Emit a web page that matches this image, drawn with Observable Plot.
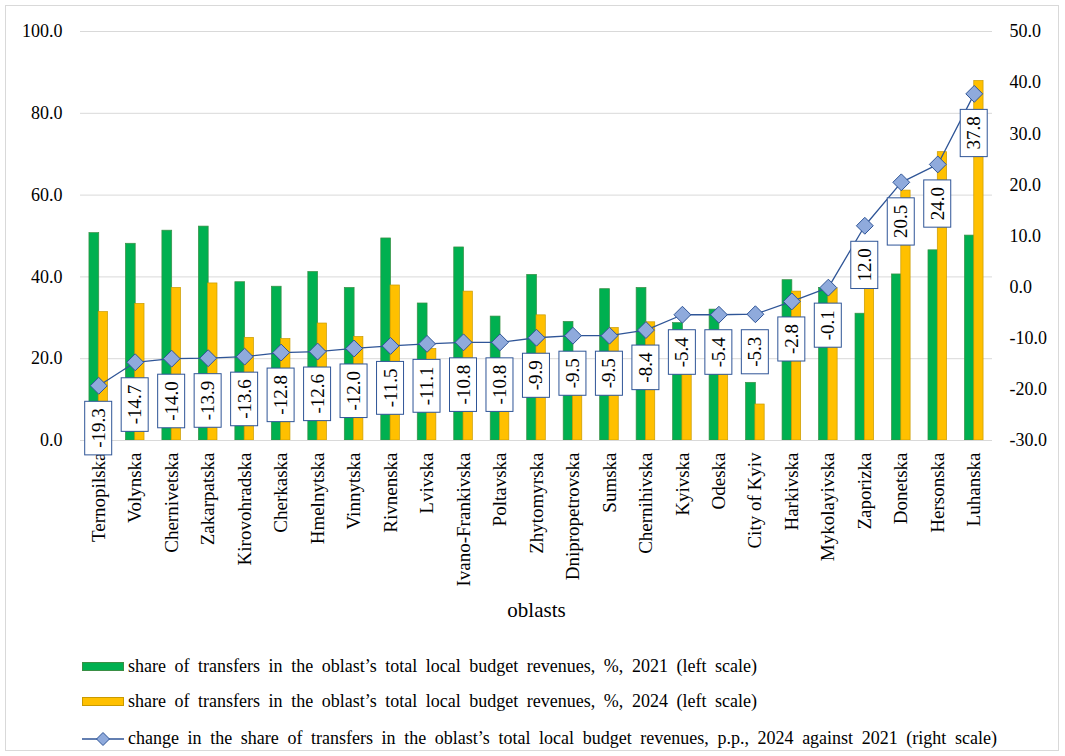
<!DOCTYPE html>
<html>
<head>
<meta charset="utf-8">
<script src="https://cdn.jsdelivr.net/npm/d3@7"></script>
<script src="https://cdn.jsdelivr.net/npm/@observablehq/plot@0.6"></script>
<style>
  html, body { margin: 0; padding: 0; background: #fff; }
  #wrap { position: relative; width: 1065px; height: 756px; overflow: hidden; font-family: "Liberation Serif", "Times New Roman", serif; }
  #frame { position: absolute; left: 5px; top: 5px; width: 1054px; height: 746px; border: 1px solid #d9d9d9; box-sizing: border-box; }
  #chart { position: absolute; left: 0; top: 0; }
  .leg { position: absolute; left: 82px; display: flex; align-items: center; font-size: 18px; color: #000; white-space: nowrap; }
  .sw { width: 40px; height: 7px; margin-right: 4px; }
</style>
</head>
<body>
<div id="wrap">
  <div id="frame"></div>
  <div id="chart"></div>
  <div class="leg" style="top:656px"><div class="sw" style="background:#00b050;border:1px solid #3a8f45"></div><span data-end="757">share of transfers in the oblast’s total local budget revenues, %, 2021 (left scale)</span></div>
  <div class="leg" style="top:691px"><div class="sw" style="background:#ffc000;border:1px solid #c99a00"></div><span data-end="757">share of transfers in the oblast’s total local budget revenues, %, 2024 (left scale)</span></div>
  <div class="leg" style="top:728px"><svg width="42" height="20" style="margin-right:4px"><line x1="0" y1="10" x2="42" y2="10" stroke="#2f5597" stroke-width="1.3"/><path d="M21,3.5 L27.5,10 L21,16.5 L14.5,10 Z" fill="#8faadc" stroke="#2f5597" stroke-width="1"/></svg><span data-end="997">change in the share of transfers in the oblast’s total local budget revenues, p.p., 2024 against 2021 (right scale)</span></div>
</div>
<script>
const oblasts = ["Ternopilska","Volynska","Chernivetska","Zakarpatska","Kirovohradska","Cherkaska","Hmelnytska","Vinnytska","Rivnenska","Lvivska","Ivano-Frankivska","Poltavska","Zhytomyrska","Dnipropetrovska","Sumska","Chernihivska","Kyivska","Odeska","City of Kyiv","Harkivska","Mykolayivska","Zaporizka","Donetska","Hersonska","Luhanska"];
const share2021 = [50.7,48.1,51.3,52.3,38.7,37.6,41.2,37.3,49.4,33.5,47.2,30.3,40.5,29.0,37.0,37.3,28.7,32.0,14.1,39.2,37.3,31.0,40.6,46.5,50.1];
const share2024 = [31.4,33.4,37.3,38.4,25.1,24.8,28.6,25.3,37.9,22.4,36.4,19.5,30.6,19.5,27.5,28.9,23.3,26.6,8.8,36.4,37.2,43.0,61.1,70.5,87.9];
const change = [-19.3,-14.7,-14.0,-13.9,-13.6,-12.8,-12.6,-12.0,-11.5,-11.1,-10.8,-10.8,-9.9,-9.5,-9.5,-8.4,-5.4,-5.4,-5.3,-2.8,-0.1,12.0,20.5,24.0,37.8];
const leftTicks = [0,20,40,60,80,100];
const rightTicks = [-30,-20,-10,0,10,20,30,40,50];

const rows = oblasts.map((o,i)=>({oblast:o, v21:share2021[i], v24:share2024[i], ch:change[i]}));
// secondary (right) axis mapped onto the left scale's domain
const toLeft = d3.scaleLinear().domain([-30,50]).range([0,100]);
const f1 = d3.format(".1f");
const fmt = v => f1(v).replace("\u2212", "-");
const FONT = "'Liberation Serif','Times New Roman',serif";

const W = 1065, H = 630, ML = 80, MR = 73, MT = 31, MB = 190;
const bw = (W - ML - MR) / oblasts.length;
const half = bw / 2;

const plot = Plot.plot({
  width: W, height: H,
  marginLeft: ML, marginRight: MR, marginTop: MT, marginBottom: MB,
  style: {fontFamily: FONT, fontSize: "18px", color: "#000", background: "transparent", overflow: "visible"},
  x: {type: "band", domain: oblasts, padding: 0, round: false, label: null},
  y: {domain: [0,100], label: null},
  marks: [
    Plot.gridY(leftTicks, {stroke: "#d9d9d9", strokeOpacity: 1, strokeWidth: 1}),
    Plot.barY(rows, {x: "oblast", y: "v21", fill: "#00b050", stroke: "#3a8f45", strokeWidth: 0.7, insetLeft: half - 9.3, insetRight: half - 0.5}),
    Plot.barY(rows, {x: "oblast", y: "v24", fill: "#ffc000", stroke: "#c99a00", strokeWidth: 0.7, insetLeft: half, insetRight: half - 9.3}),
    Plot.ruleY([0], {stroke: "#d9d9d9", strokeWidth: 1}),
    Plot.axisY(leftTicks, {anchor: "left", tickSize: 0, tickPadding: 18, tickFormat: fmt, label: null, fontSize: 18, fontFamily: FONT}),
    Plot.axisY(rightTicks.map(toLeft), {anchor: "right", tickSize: 0, tickPadding: 17, tickFormat: d => fmt(toLeft.invert(d)), label: null, fontSize: 18, fontFamily: FONT}),
    Plot.axisX({tickRotate: -90, tickSize: 0, tickPadding: 12, label: null, fontSize: 19, fontFamily: FONT}),
    Plot.line(rows, {x: "oblast", y: d => toLeft(d.ch), stroke: "#2f5597", strokeWidth: 1.3}),
    Plot.dot(rows, {x: "oblast", y: d => toLeft(d.ch), symbol: "diamond2", r: 7.6, fill: "#8faadc", stroke: "#2f5597", strokeWidth: 1}),
    Plot.text(["oblasts"], {frameAnchor: "bottom", text: d => d, dy: 176, fontSize: 21, fill: "#000", fontFamily: FONT})
  ]
});
document.getElementById("chart").appendChild(plot);

// data labels in white boxes, positioned with Plot's own scales
const NS = "http://www.w3.org/2000/svg";
const xs = plot.scale("x"), ys = plot.scale("y");
const lg = document.createElementNS(NS, "g");
lg.setAttribute("aria-label", "data labels");
plot.appendChild(lg);
rows.forEach(d => {
  const cx = xs.apply(d.oblast) + xs.bandwidth / 2;
  const cy = ys.apply(toLeft(d.ch));
  const g = document.createElementNS(NS, "g");
  g.setAttribute("transform", `translate(${cx},${cy + 23}) rotate(-90)`);
  const t = document.createElementNS(NS, "text");
  t.setAttribute("text-anchor", "end");
  t.setAttribute("dy", "0.34em");
  t.setAttribute("font-size", "19");
  t.setAttribute("font-family", FONT);
  t.setAttribute("fill", "#000");
  t.textContent = fmt(d.ch);
  g.appendChild(t);
  lg.appendChild(g);
  const b = t.getBBox();
  const r = document.createElementNS(NS, "rect");
  const padL = 7, padT = 4;
  r.setAttribute("x", b.x - padL);
  r.setAttribute("y", b.y - padT + 1);
  r.setAttribute("width", b.width + 2 * padL);
  r.setAttribute("height", b.height + 2 * padT - 2);
  r.setAttribute("fill", "#fff");
  r.setAttribute("stroke", "#2f5597");
  r.setAttribute("stroke-width", "1");
  g.insertBefore(r, t);
});

// legend: spread words to the reference line lengths
document.querySelectorAll(".leg span").forEach(s => {
  const end = +s.dataset.end;
  const rect = s.getBoundingClientRect();
  const spaces = (s.textContent.match(/ /g) || []).length;
  const ws = (end - rect.right) / spaces;
  s.style.wordSpacing = ws.toFixed(2) + "px";
});
</script>
</body>
</html>
